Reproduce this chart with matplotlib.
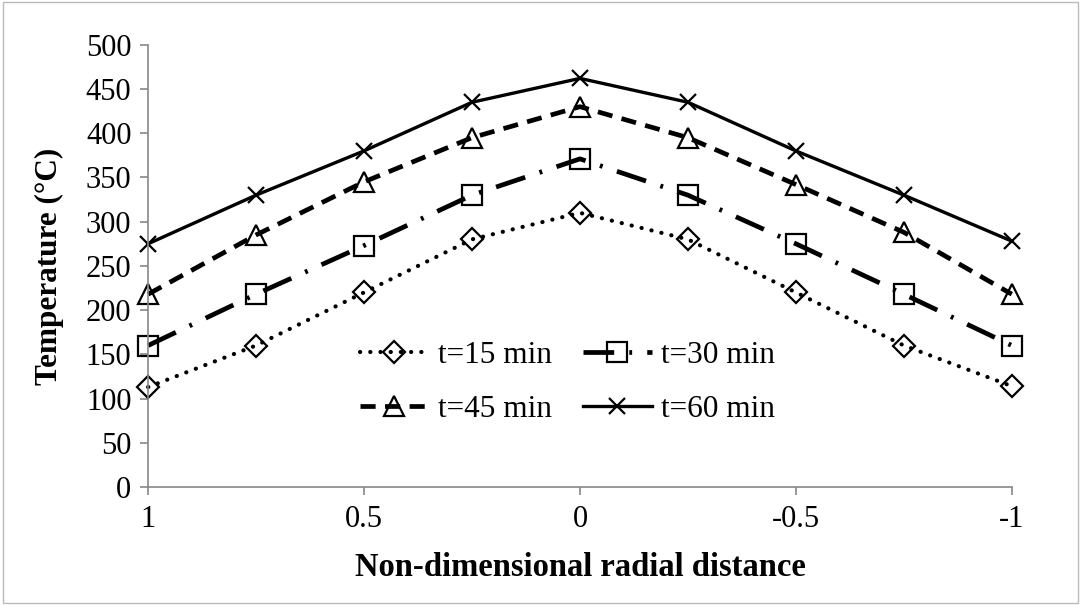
import numpy as np
import matplotlib.pyplot as plt
from matplotlib.patches import Rectangle

#### Data ####
r = [1, 0.75, 0.5, 0.25, 0, -0.25, -0.5, -0.75, -1]
t15 = [113, 160, 220, 280, 310, 280, 220, 160, 114]
t30 = [160, 218, 273, 330, 371, 330, 275, 218, 160]
t45 = [218, 285, 345, 395, 430, 395, 342, 288, 218]
t60 = [275, 330, 380, 435, 462, 435, 380, 330, 278]
labels = ['t=15 min', 't=30 min', 't=45 min', 't=60 min']
xticks = [1, 0.5, 0, -0.5, -1]
xticklabels = ['1', '0.5', '0', '-0.5', '-1']

plt.rcParams['font.family'] = ['Liberation Serif', 'DejaVu Serif']

fig = plt.figure(figsize=(10.81, 6.05), dpi=100)
ax = fig.add_axes([0.137, 0.195, 0.799, 0.731])

#### series ####
h15, = ax.plot(r, t15, color='k', lw=3.0, linestyle=(0, (0.05, 2.4)), dash_capstyle='round',
               marker='D', ms=11, mfc='none', mec='k', mew=1.6, label=labels[0], clip_on=False)
h30, = ax.plot(r, t30, color='k', lw=3.4, linestyle=(0, (6.5, 3.2, 0.6, 3.2)),
               marker='s', ms=15, mfc='none', mec='k', mew=1.6, label=labels[1], clip_on=False)
h45, = ax.plot(r, t45, color='k', lw=3.4, linestyle=(0, (3.2, 2.0)),
               marker='^', ms=15, mfc='none', mec='k', mew=1.6, label=labels[2], clip_on=False)
h60, = ax.plot(r, t60, color='k', lw=2.4, linestyle='-',
               marker='x', ms=11, mec='k', mew=1.6, label=labels[3], clip_on=False)

ax.set_xlim(1, -1)
ax.set_ylim(0, 500)
ax.set_yticks(np.arange(0, 501, 50))
ax.set_xticks(xticks)
ax.set_xticklabels(xticklabels)
ax.tick_params(labelsize=22, color='#888888', length=6, width=1.2)
ax.tick_params(axis='x', pad=7)
ax.tick_params(axis='y', pad=6)

for s in ['top', 'right']:
    ax.spines[s].set_visible(False)
for s in ['left', 'bottom']:
    ax.spines[s].set_color('#888888')
    ax.spines[s].set_linewidth(1.2)

ax.set_xlabel('Non-dimensional radial distance', fontsize=23.5, fontweight='bold')
ax.set_ylabel('Temperature (°C)', fontsize=22.5, fontweight='bold')
ax.xaxis.set_label_coords(0.5, -0.147)
ax.yaxis.set_label_coords(-0.097, 0.5)

# row-wise legend order: 15, 30 / 45, 60
ax.legend([h15, h45, h30, h60], [labels[0], labels[2], labels[1], labels[3]],
          ncol=2, loc='center', bbox_to_anchor=(0.4855, 0.236), frameon=False,
          fontsize=22.5, handlelength=2.2, columnspacing=1.0, handletextpad=0.3,
          labelspacing=0.8)

#### outer frame ####
fig.patches.append(Rectangle((0.003, 0.003), 0.994, 0.994, transform=fig.transFigure,
                             fill=False, edgecolor='#bbbbbb', lw=1))

plt.savefig('out.png', dpi=100)
